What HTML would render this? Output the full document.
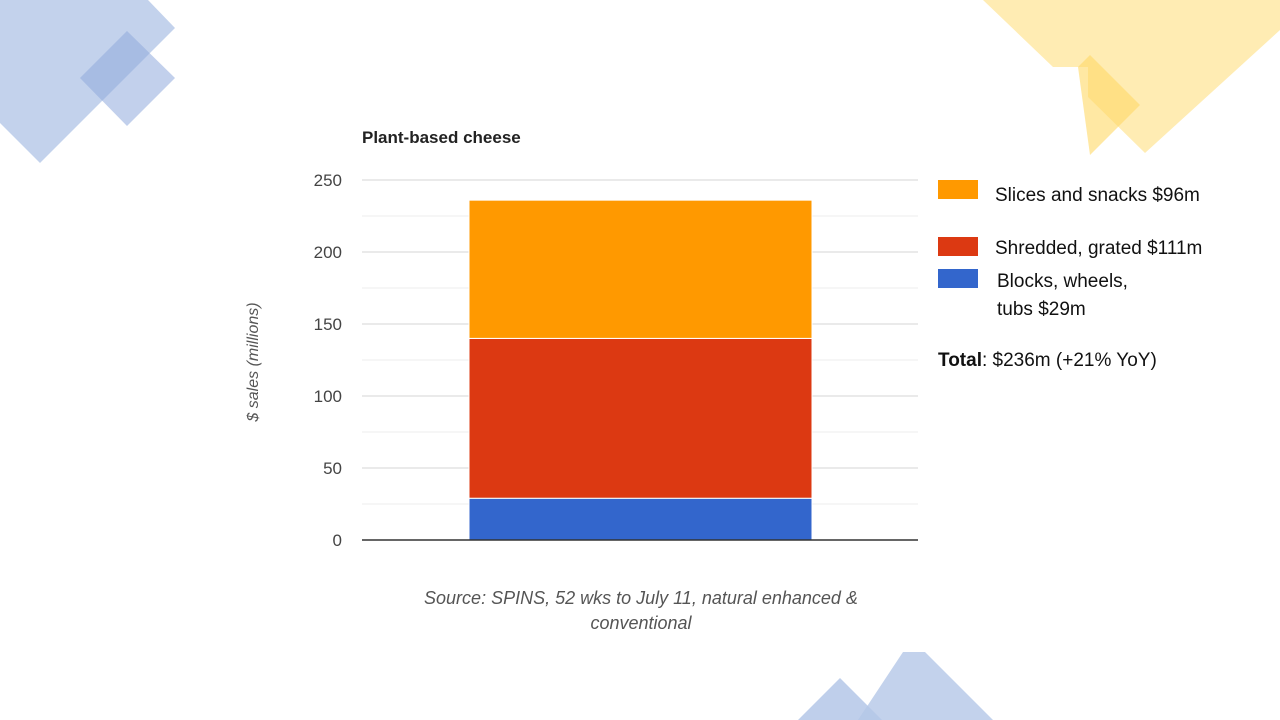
<!DOCTYPE html>
<html><head><meta charset="utf-8"><style>
body{margin:0;width:1280px;height:720px;background:#fff;overflow:hidden;font-family:"Liberation Sans",sans-serif}
svg{position:absolute;left:0;top:0}
</style></head><body>
<svg width="1280" height="720">
<g>
<polygon points="0,0 148,0 175,28 40,163 0,123" fill="#b4c7e7" opacity="0.8"/>
<polygon points="127,31 175,78 127,126 80,78" fill="#8faadc" opacity="0.55"/>
<polygon points="983,0 1280,0 1280,30 1145,153 1088,97 1088,67 1053,67" fill="#ffe699" opacity="0.75"/>
<polygon points="1078,67 1090,55 1140,105 1090,155" fill="#ffd966" opacity="0.6"/>
<polygon points="840,678 882,720 798,720" fill="#b4c7e7" opacity="0.85"/>
<polygon points="903,652 925,652 993,720 858,720 " fill="#b4c7e7" opacity="0.8"/>
</g>
<text x="362" y="143" font-size="17" font-weight="bold" fill="#222">Plant-based cheese</text>
<g id="grid"></g>
<g id="yticks"></g>
<g id="bars"></g>
<line x1="362" y1="540" x2="918" y2="540" stroke="#333" stroke-width="1.5"/>
<text transform="translate(258,362) rotate(-90)" text-anchor="middle" font-size="16" font-style="italic" fill="#555">$ sales (millions)</text>
<text x="641" y="604" text-anchor="middle" font-size="18" font-style="italic" fill="#555">Source: SPINS, 52 wks to July 11, natural enhanced &amp;</text>
<text x="641" y="629" text-anchor="middle" font-size="18" font-style="italic" fill="#555">conventional</text>
<g>
<rect x="938" y="180" width="40" height="19" fill="#ff9900"/>
<text x="995" y="201" font-size="19" fill="#111">Slices and snacks $96m</text>
<rect x="938" y="237" width="40" height="19" fill="#dc3912"/>
<text x="995" y="254" font-size="19" fill="#111">Shredded, grated $111m</text>
<rect x="938" y="269" width="40" height="19" fill="#3366cc"/>
<text x="997" y="287" font-size="19" fill="#111">Blocks, wheels,</text>
<text x="997" y="315" font-size="19" fill="#111">tubs $29m</text>
<text x="938" y="366" font-size="19" fill="#111"><tspan font-weight="bold">Total</tspan>: $236m (+21% YoY)</text>
</g>
</svg>
<script>
const categories=["Plant-based cheese"];
const seriesNames=["Blocks, wheels, tubs","Shredded, grated","Slices and snacks"];
const blocks=[29];
const shredded=[111];
const slices=[96];
const tickLabels=[0,50,100,150,200,250];
const colors=["#3366cc","#dc3912","#ff9900"];
const NS="http://www.w3.org/2000/svg";
const y=v=>540-v*(360/250);
const grid=document.getElementById('grid'),yt=document.getElementById('yticks'),bars=document.getElementById('bars');
for(let v=25;v<=250;v+=25){
 const l=document.createElementNS(NS,'line');
 
 
 l.setAttribute('x1',362);l.setAttribute('x2',918);l.setAttribute('y1',y(v));l.setAttribute('y2',y(v));
 l.setAttribute('stroke',v%50?'#ececec':'#d6d6d6');l.setAttribute('stroke-width',1);
 grid.appendChild(l);
}
tickLabels.forEach(v=>{
 const t=document.createElementNS(NS,'text');
 
 
 t.setAttribute('x',342);t.setAttribute('y',y(v)+6);t.setAttribute('text-anchor','end');
 t.setAttribute('font-size',17);t.setAttribute('fill','#444');t.textContent=v;yt.appendChild(t);
});
const series=[blocks,shredded,slices];
categories.forEach((c,i)=>{
 let base=0;
 series.forEach((s,j)=>{
  const r=document.createElementNS(NS,'rect');
  
  
  r.setAttribute('x',469);r.setAttribute('width',343);
  r.setAttribute('y',y(base+s[i]));r.setAttribute('height',y(base)-y(base+s[i]));
  r.setAttribute('fill',colors[j]);r.setAttribute('stroke','#fff');r.setAttribute('stroke-width',1);
  bars.appendChild(r);base+=s[i];
 });
});
</script>
</body></html>
